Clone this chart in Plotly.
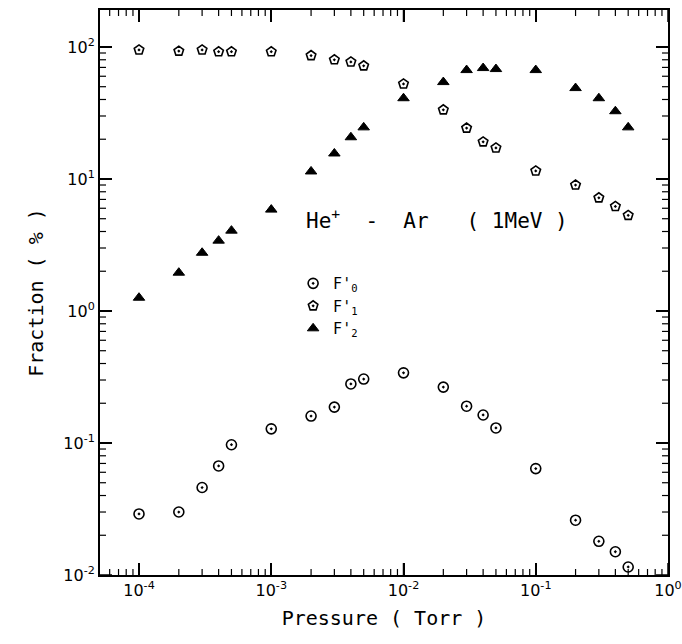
import math
import plotly.graph_objects as go

pressure = [1e-4, 2e-4, 3e-4, 4e-4, 5e-4, 1e-3, 2e-3, 3e-3, 4e-3, 5e-3,
            1e-2, 2e-2, 3e-2, 4e-2, 5e-2, 1e-1, 2e-1, 3e-1, 4e-1, 5e-1]
f0 = [0.029, 0.030, 0.046, 0.067, 0.097, 0.128, 0.160, 0.187, 0.28, 0.305,
      0.34, 0.265, 0.19, 0.163, 0.13, 0.064, 0.026, 0.018, 0.015, 0.0115]
f1 = [95, 93, 95, 92, 92, 92, 86, 80, 77, 72,
      52.5, 33.4, 24.3, 19.1, 17.2, 11.5, 9.0, 7.2, 6.2, 5.3]
f2 = [1.26, 1.95, 2.76, 3.41, 4.06, 5.86, 11.4, 15.6, 20.7, 24.6,
      40.9, 54.2, 66.8, 69.2, 68, 66.8, 48.8, 40.9, 32.6, 24.6]

legend_names = ["F'<sub>0</sub>", "F'<sub>1</sub>", "F'<sub>2</sub>"]

xtick_vals = [1e-4, 1e-3, 1e-2, 1e-1, 1]
xtick_text = ["10<sup>-4</sup>", "10<sup>-3</sup>", "10<sup>-2</sup>", "10<sup>-1</sup>", "10<sup>0</sup>"]
ytick_vals = [1e-2, 1e-1, 1, 10, 100]
ytick_text = ["10<sup>-2</sup>", "10<sup>-1</sup>", "10<sup>0</sup>", "10<sup>1</sup>", "10<sup>2</sup>"]

x_decades = [1e-5, 1e-4, 1e-3, 1e-2, 1e-1]
y_decades = [1e-2, 1e-1, 1, 10, 100]
minor_digits = [2, 3, 4, 5, 6, 7, 8, 9]

X_RANGE = [-4.295, 0]
Y_RANGE = [-2, 2.28]

W, H = 682, 644
ML, MR, MT, MB = 100, 14, 10, 69
PW, PH = W - ML - MR, H - MT - MB

FONT = "DejaVu Sans"
MONO = "DejaVu Sans Mono"


def in_range(v, rng):
    lv = math.log10(v)
    return rng[0] - 1e-9 <= lv <= rng[1] + 1e-9


x_minor = [d * m for d in x_decades for m in minor_digits if in_range(d * m, X_RANGE)]
y_minor = [d * m for d in y_decades for m in minor_digits if in_range(d * m, Y_RANGE)]
x_major = [v for v in xtick_vals if in_range(v, X_RANGE)]
y_major = [v for v in ytick_vals if in_range(v, Y_RANGE)]

fig = go.Figure()
fig.add_trace(go.Scatter(x=pressure, y=f0, mode="markers", name=legend_names[0],
                         marker=dict(symbol="circle-open-dot", size=10, color="black",
                                     line=dict(width=1.6, color="black"))))
fig.add_trace(go.Scatter(x=pressure, y=f1, mode="markers", name=legend_names[1],
                         marker=dict(symbol="pentagon-open-dot", size=10, color="black",
                                     line=dict(width=1.6, color="black"))))
fig.add_trace(go.Scatter(x=pressure, y=f2, mode="markers", name=legend_names[2],
                         marker=dict(symbol="triangle-up", size=10, color="black",
                                     line=dict(width=1, color="black"))))

axis_common = dict(
    type="log", showgrid=False, zeroline=False, showline=True, linecolor="black",
    linewidth=2, mirror="allticks", ticks="inside", ticklen=12, tickwidth=1.5,
    tickcolor="black", automargin=False,
    tickfont=dict(family=FONT, size=16, color="black"),
)

fig.update_xaxes(range=X_RANGE, tickvals=xtick_vals, ticktext=xtick_text,
                 title=dict(text="Pressure ( Torr )", font=dict(family=MONO, size=20, color="black"),
                            standoff=12),
                 **axis_common)
fig.update_yaxes(range=Y_RANGE, tickvals=ytick_vals, ticktext=ytick_text,
                 title=dict(text="Fraction ( % )", font=dict(family=MONO, size=20, color="black"),
                            standoff=14),
                 **axis_common)

# tick marks on all four sides (drawn as shapes so they always show)
shapes = []
for vals, length, width in ((x_major, 12, 1.5), (x_minor, 6, 1.2)):
    fy = length / PH
    for v in vals:
        shapes.append(dict(type="line", xref="x", yref="paper", x0=v, x1=v, y0=0, y1=fy,
                           line=dict(color="black", width=width), layer="above"))
        shapes.append(dict(type="line", xref="x", yref="paper", x0=v, x1=v, y0=1, y1=1 - fy,
                           line=dict(color="black", width=width), layer="above"))
for vals, length, width in ((y_major, 12, 1.5), (y_minor, 6, 1.2)):
    fx = length / PW
    for v in vals:
        shapes.append(dict(type="line", xref="paper", yref="y", y0=v, y1=v, x0=0, x1=fx,
                           line=dict(color="black", width=width), layer="above"))
        shapes.append(dict(type="line", xref="paper", yref="y", y0=v, y1=v, x0=1, x1=1 - fx,
                           line=dict(color="black", width=width), layer="above"))

fig.add_annotation(text="He<sup>+</sup>  -  Ar   ( 1MeV )", x=0.36, y=0.63,
                   xref="paper", yref="paper", xanchor="left", yanchor="middle",
                   showarrow=False, font=dict(family=MONO, size=21, color="black"))

fig.update_layout(
    width=W, height=H,
    margin=dict(l=ML, r=MR, t=MT, b=MB),
    paper_bgcolor="white", plot_bgcolor="white",
    shapes=shapes,
    legend=dict(x=0.34, y=0.545, xanchor="left", yanchor="top",
                bgcolor="rgba(0,0,0,0)", font=dict(family=MONO, size=15, color="black"),
                itemwidth=30, tracegroupgap=0),
)

fig.write_html("out.html")
